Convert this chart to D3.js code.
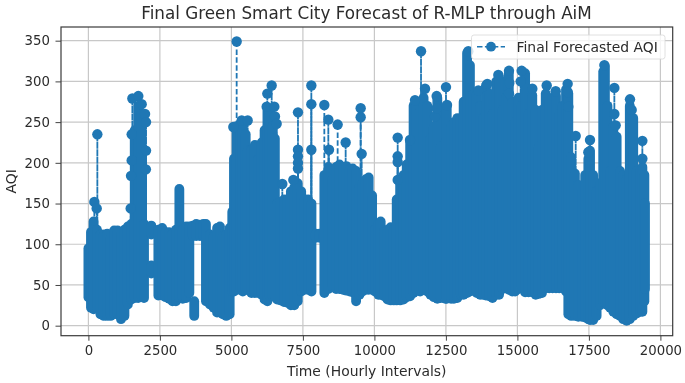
<!DOCTYPE html>
<html>
<head>
<meta charset="utf-8">
<script src="https://cdn.jsdelivr.net/npm/d3@7/dist/d3.min.js"></script>
<style>
  html, body { margin: 0; padding: 0; background: #fff; }
  text { font-family: "DejaVu Sans", sans-serif; fill: #2b2b2b; }
  /* the reference is a slightly soft screenshot */
  svg { filter: blur(0.4px); }
</style>
</head>
<body>
<div id="chart"></div>
<script>
// solid part of the forecast: hour, lowest and highest AQI of each stretch
var bodyHours = [0,90,180,300,420,540,660,780,900,1020,1140,1260,1380,1500,1620,1740,1860,1945,2200,2200,2446,2580,2700,2820,2940,3060,3180,3300,3420,3530,3700,3650,3770,3900,4020,4110,4250,4380,4500,4600,4700,4820,4940,
  5030,5090,5180,5300,5400,5500,5570,5700,5820,5940,6060,6160,6260,6340,6440,6520,6600,6720,6840,6960,7080,7200,7320,7440,7560,7680,7800,7950,8080,8200,8250,8390,8530,8660,8780,8900,9020,9140,9240,9360,9480,9580,9700,9800,9920,
  10020,10140,10220,10340,10460,10570,10680,10780,10900,11020,11130,11250,11370,11480,11600,11720,11850,11960,12080,12200,12320,12480,12530,12680,12780,12900,13020,13120,13240,13340,13460,13580,13700,13800,13900,14020,14130,14260,14360,14480,14600,14700,14820,14920,15040,
  15150,15270,15390,15520,15640,15750,15860,15990,16110,16230,16350,16460,16580,16700,16780,16880,17010,17130,17260,17370,17480,17540,17650,17770,17890,18000,18060,18150,18240,18355,18470,18590,18700,18820,18930,19050,19170,19290,19370,19440,19460]
var bodyLow = [35,22,20,22,14,12,12,12,14,14,8,12,26,32,34,34,36,34,112,64,37,37,35,33,30,30,35,33,34,40,12,110,110,110,110,30,26,22,16,16,14,12,14,
  42,42,44,44,42,44,44,40,40,40,38,32,30,36,36,36,32,31,29,28,25,25,30,42,44,44,42,108,108,108,40,45,48,45,45,44,43,42,41,30,38,42,44,44,44,
  42,38,38,36,32,31,31,31,31,32,35,36,40,43,42,44,42,38,35,33,34,33,33,33,33,34,38,38,40,42,43,40,38,38,37,36,34,38,38,45,46,44,42,42,45,
  48,41,41,41,38,39,40,46,46,46,46,46,46,42,14,12,12,11,11,10,8,7,7,12,25,29,29,25,22,17,14,12,8,6,8,12,15,17,17,30,45]
var bodyHigh = [95,115,128,118,112,112,113,108,117,117,112,118,122,125,240,270,260,125,123,74,118,120,115,115,113,118,168,118,122,122,30,123,125,124,125,125,112,110,120,122,110,112,120,
  140,205,245,245,245,235,215,216,222,205,225,240,265,265,245,230,150,152,155,155,165,170,175,165,155,155,150,113,113,113,185,195,180,195,198,195,196,192,193,190,170,175,180,182,160,
  118,125,128,115,118,121,118,155,180,185,198,225,270,275,265,280,270,230,245,280,220,225,270,245,250,255,255,275,335,320,285,285,270,255,295,285,260,300,305,265,280,310,275,250,280,
  270,310,260,283,265,220,265,285,278,280,282,260,270,290,285,207,187,173,165,185,205,215,185,165,175,312,318,270,190,245,232,190,185,180,270,255,190,190,195,185,150]

// single peaks that stand out of the solid part, each on its own thin stem
var peakHours = [208,290,313,1537,1746,1863,1980,2015,2015,2010,1513,1513,1490,1478,
  5184,5067,5359,5569,6256,6408,6233,6501,6524,6582,6780,7165,7328,7328,7328,7328,7328,7795,7795,7795,8249,8389,8412,8715,8995,9520,9520,9555,
  10814,10814,10814,10814,11245,11420,11630,11770,12119,12177,12177,12503,12538,13284,13634,13949,14333,14706,14718,14706,15114,15149,
  15522,16024,16338,16757,16757,16781,17038,17480,17539,18040,18390,18390,18436,18937,18996,19369,19369]
var peakAqi = [152,144,235,279,282,272,260,250,215,192,235,203,184,144,
  349,244,252,252,285,295,269,269,257,248,174,179,262,216,208,200,193,295,272,216,271,253,216,247,225,267,256,211,
  231,208,201,179,228,277,337,291,257,282,267,293,271,337,289,297,308,313,298,285,300,313,
  291,295,288,297,287,269,233,213,228,320,292,260,246,278,265,227,205]

var xTicks = [0,2500,5000,7500,10000,12500,15000,17500,20000]
var yTicks = [0,50,100,150,200,250,300,350]

var chartTitle = "Final Green Smart City Forecast of R-MLP through AiM"
var xTitle = "Time (Hourly Intervals)"
var yTitle = "AQI"
var seriesName = "Final Forecasted AQI"

var w = 685, h = 383
var left_margin = 61, right_edge = 672.7, top_edge = 27, bottom_edge = 335.7
var blue = "#1f77b4"
var rad = 4.9
var peak_rad = 5.2
var stem_base = 100
var dashed_peaks = [349, 271, 247, 267] //stems where the dashes really show, the rest overlap to almost solid

var svg = d3.select("#chart").append("svg").attr("width", w).attr("height", h).style("display", "block")

var x = d3.scaleLinear().domain([-958, 20430]).range([left_margin, right_edge])
var y = d3.scaleLinear().domain([-12.3, 366.8]).range([bottom_edge, top_edge])

// grid
svg.append("g").selectAll("line").data(xTicks).enter().append("line")
  .attr("x1", function(d){ return x(d) }).attr("x2", function(d){ return x(d) })
  .attr("y1", top_edge).attr("y2", bottom_edge)
  .attr("stroke", "#c8c8c8").attr("stroke-width", 1.2)
svg.append("g").selectAll("line").data(yTicks).enter().append("line")
  .attr("x1", left_margin).attr("x2", right_edge)
  .attr("y1", function(d){ return y(d) }).attr("y2", function(d){ return y(d) })
  .attr("stroke", "#c8c8c8").attr("stroke-width", 1.2)

// stems under the peaks
svg.append("g").selectAll("line").data(peakHours).enter().append("line")
  .attr("x1", function(d){ return x(d) }).attr("x2", function(d){ return x(d) })
  .attr("y1", function(d, i){ return y(peakAqi[i]) }).attr("y2", y(stem_base))
  .attr("stroke", blue).attr("stroke-width", 1.8)
  .attr("stroke-dasharray", function(d, i){ return dashed_peaks.indexOf(peakAqi[i]) >= 0 ? "5.5,2.4" : "7,0.5" })

// solid body, round caps give the same outline as a stack of markers
svg.append("g").selectAll("line").data(bodyHours).enter().append("line")
  .attr("x1", function(d){ return x(d) }).attr("x2", function(d){ return x(d) })
  .attr("y1", function(d, i){ return y(bodyLow[i]) }).attr("y2", function(d, i){ return y(bodyHigh[i]) })
  .attr("stroke", blue).attr("stroke-width", rad * 2).attr("stroke-linecap", "round")

svg.append("g").selectAll("circle").data(peakHours).enter().append("circle")
  .attr("cx", function(d){ return x(d) }).attr("cy", function(d, i){ return y(peakAqi[i]) })
  .attr("r", peak_rad).attr("fill", blue)

// axes
var x_axis = d3.axisBottom(x).tickValues(xTicks).tickFormat(d3.format("d")).tickSize(5).tickPadding(5)
var y_axis = d3.axisLeft(y).tickValues(yTicks).tickFormat(d3.format("d")).tickSize(5.5).tickPadding(5.5)

var gx = svg.append("g").attr("transform", "translate(0," + bottom_edge + ")").call(x_axis)
var gy = svg.append("g").attr("transform", "translate(" + left_margin + ",0)").call(y_axis)
gx.select(".domain").remove()
gy.select(".domain").remove()
svg.selectAll(".tick line").attr("stroke", "#444").attr("stroke-width", 1)
svg.selectAll(".tick text").style("font-size", "13.3px").style("font-family", "'DejaVu Sans'").attr("fill", "#2b2b2b")

svg.append("rect").attr("x", left_margin).attr("y", top_edge)
  .attr("width", right_edge - left_margin).attr("height", bottom_edge - top_edge)
  .attr("fill", "none").attr("stroke", "#3a3a3a").attr("stroke-width", 1.2)

// titles
svg.append("text").attr("x", 366.5).attr("y", 18.5)
  .attr("text-anchor", "middle").style("font-size", "16.8px").text(chartTitle)
svg.append("text").attr("x", 366.7).attr("y", 376)
  .attr("text-anchor", "middle").style("font-size", "13.9px").text(xTitle)
svg.append("text").attr("transform", "translate(15.5," + (top_edge + bottom_edge) / 2 + ") rotate(-90)")
  .attr("text-anchor", "middle").style("font-size", "13.9px").text(yTitle)

// legend
var legend = svg.append("g")
legend.append("rect").attr("x", 471.5).attr("y", 35).attr("width", 193.5).attr("height", 24).attr("rx", 2.5)
  .attr("fill", "#fff").attr("fill-opacity", 0.8).attr("stroke", "#d8d8d8").attr("stroke-width", 0.8)
legend.append("line").attr("x1", 477).attr("x2", 505).attr("y1", 46.7).attr("y2", 46.7)
  .attr("stroke", blue).attr("stroke-width", 1.5).attr("stroke-dasharray", "5.5,2.4")
legend.append("circle").attr("cx", 491).attr("cy", 46.7).attr("r", rad).attr("fill", blue)
legend.append("text").attr("x", 516.5).attr("y", 51.5).style("font-size", "13.9px").text(seriesName)
</script>
</body>
</html>
